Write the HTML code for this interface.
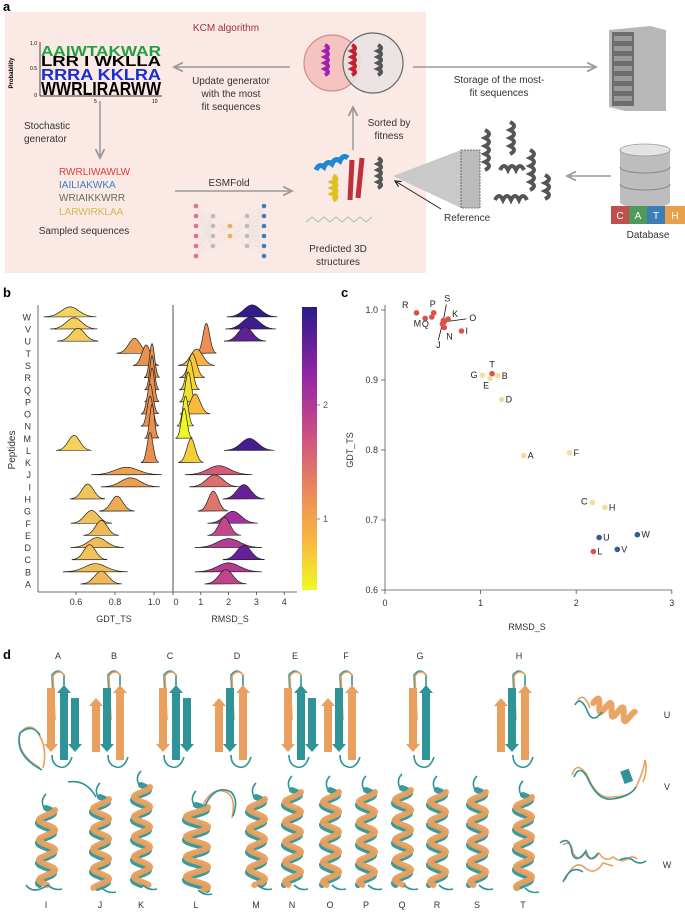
<!DOCTYPE html>
<html><head><meta charset="utf-8">
<style>
html,body{margin:0;padding:0;background:#fff;}
body{width:685px;height:916px;overflow:hidden;font-family:"Liberation Sans",sans-serif;}
svg{display:block;}
text{font-family:"Liberation Sans",sans-serif;}
</style></head>
<body>
<svg id="fig" width="685" height="916" viewBox="0 0 685 916">
  <defs>
    <linearGradient id="cbar" x1="0" y1="1" x2="0" y2="0">
      <stop offset="0" stop-color="#f0f921"/>
      <stop offset="0.17" stop-color="#f9b840"/>
      <stop offset="0.35" stop-color="#ea8a5c"/>
      <stop offset="0.55" stop-color="#cc4f82"/>
      <stop offset="0.75" stop-color="#9526a6"/>
      <stop offset="1" stop-color="#2c1a8a"/>
    </linearGradient>
    <marker id="ah" markerWidth="8" markerHeight="8" refX="6" refY="4" orient="auto"><path d="M0,1 L6,4 L0,7" fill="none" stroke="#999" stroke-width="1.2"/></marker>
    <marker id="ahk" markerWidth="8" markerHeight="8" refX="6" refY="4" orient="auto"><path d="M0,1 L6,4 L0,7" fill="none" stroke="#222" stroke-width="1.2"/></marker>
  </defs>

  <!-- PANEL A -->
  <g>
    <text x="3" y="11" font-size="13" font-weight="bold">a</text>
    <rect x="5" y="12" width="421" height="261" fill="#fbe9e6"/>
    <text x="226" y="31" font-size="10" fill="#a03040" text-anchor="middle">KCM algorithm</text>
    <g font-weight="bold">
      <text x="10" y="70" font-size="6" transform="rotate(-90 13 70)" text-anchor="middle">Probability</text>
      <line x1="40" y1="42" x2="40" y2="96" stroke="#000" stroke-width="0.7"/>
      <line x1="40" y1="96" x2="162" y2="96" stroke="#000" stroke-width="0.7"/>
      <text x="37" y="45" font-size="5" text-anchor="end" font-weight="normal">1.0</text>
      <text x="37" y="70" font-size="5" text-anchor="end" font-weight="normal">0.5</text>
      <text x="37" y="97" font-size="5" text-anchor="end" font-weight="normal">0</text>
      <text x="94" y="103" font-size="5" font-weight="normal">5</text>
      <text x="152" y="103" font-size="5" font-weight="normal">10</text>
      <text x="41" y="95" font-size="18" fill="#000" textLength="120" lengthAdjust="spacingAndGlyphs">WWRLIRARWW</text>
      <text x="41" y="80" font-size="16" fill="#1a2fd0" textLength="120" lengthAdjust="spacingAndGlyphs">RRRA KKLRA</text>
      <text x="41" y="66" font-size="15" fill="#000" textLength="120" lengthAdjust="spacingAndGlyphs">LRR I WKLLA</text>
      <text x="41" y="56" font-size="15" fill="#20a040" textLength="120" lengthAdjust="spacingAndGlyphs">AAIWTAKWAR</text>
    </g>
    <line x1="290" y1="67" x2="174" y2="67" stroke="#999" stroke-width="1.5" marker-end="url(#ah)"/>
    <g font-size="10" fill="#333" text-anchor="middle">
      <text x="231" y="84">Update generator</text>
      <text x="231" y="97">with the most</text>
      <text x="231" y="110">fit sequences</text>
    </g>
    <g>
      <circle cx="332" cy="63" r="28" fill="#f3c4c0" stroke="#d88a86" stroke-width="1.2"/>
      <circle cx="373" cy="63" r="30" fill="#e9e3e3" fill-opacity="0.85" stroke="#666" stroke-width="1.2"/>
      <path d="M325,45 q6,3 0,6 q6,3 0,6 q6,3 0,6 q6,3 0,6 q6,3 0,6" fill="none" stroke="#a020b0" stroke-width="4"/>
      <path d="M352,45 q6,3 0,6 q6,3 0,6 q6,3 0,6 q6,3 0,6 q6,3 0,6" fill="none" stroke="#c02030" stroke-width="4"/>
      <path d="M378,45 q6,3 0,6 q6,3 0,6 q6,3 0,6 q6,3 0,6 q6,3 0,6" fill="none" stroke="#555" stroke-width="4"/>
    </g>
    <line x1="413" y1="67" x2="596" y2="67" stroke="#999" stroke-width="1.5" marker-end="url(#ah)"/>
    <g font-size="10" fill="#333" text-anchor="middle">
      <text x="499" y="83">Storage of the most-</text>
      <text x="499" y="96">fit sequences</text>
    </g>
    <g>
      <path d="M609,30 L650,26 L666,30 L666,111 L625,111 L609,107 Z" fill="#b8b8b8"/>
      <rect x="612" y="32" width="22" height="74" fill="#6d6d6d"/>
      <g fill="#999"><rect x="614" y="36" width="18" height="5"/><rect x="614" y="46" width="18" height="5"/><rect x="614" y="56" width="18" height="5"/><rect x="614" y="66" width="18" height="5"/><rect x="614" y="76" width="18" height="5"/><rect x="614" y="86" width="18" height="5"/><rect x="614" y="96" width="18" height="5"/></g>
    </g>
    <g font-size="10" fill="#333">
      <text x="24" y="129">Stochastic</text>
      <text x="24" y="142">generator</text>
    </g>
    <line x1="100" y1="101" x2="100" y2="158" stroke="#999" stroke-width="1.5" marker-end="url(#ah)"/>
    <g font-size="10">
      <text x="59" y="175" fill="#d9403a">RWRLIWAWLW</text>
      <text x="59" y="188" fill="#3a80c0">IAILIAKWKA</text>
      <text x="59" y="201" fill="#5f705f">WRIAIKKWRR</text>
      <text x="59" y="215" fill="#d4b850">LARWIRKLAA</text>
      <text x="84" y="234" fill="#333" text-anchor="middle">Sampled sequences</text>
    </g>
    <line x1="175" y1="191" x2="292" y2="191" stroke="#999" stroke-width="1.5" marker-end="url(#ah)"/>
    <text x="229" y="186" font-size="10" fill="#333" text-anchor="middle">ESMFold</text>
    <g id="nn"></g>
    <g>
      <path d="M316,170 q3,-7 8,-3 q3,-7 8,-3 q3,-7 8,-3 q3,-7 8,-3" fill="none" stroke="#1e88d0" stroke-width="5"/>
      <path d="M333,176 q6,3 0,6 q6,3 0,6 q6,3 0,6 q6,3 0,6" fill="none" stroke="#e0c020" stroke-width="5"/>
      <path d="M350,200 L352,160 M358,198 L362,158" stroke="#c0303a" stroke-width="5" fill="none"/>
      <path d="M378,158 q6,3 0,6 q6,3 0,6 q6,3 0,6 q6,3 0,6 q6,3 0,6" fill="none" stroke="#555" stroke-width="4"/>
      <path d="M306,222 l6,-5 l6,5 l6,-5 l6,5 l6,-5 l6,5 l6,-5 l6,5 l6,-5 l6,5 l6,-5" fill="none" stroke="#9c9" stroke-width="1"/>
    </g>
    <line x1="353" y1="150" x2="353" y2="107" stroke="#999" stroke-width="1.5" marker-end="url(#ah)"/>
    <g font-size="10" fill="#333" text-anchor="middle">
      <text x="389" y="126">Sorted by</text>
      <text x="389" y="139">fitness</text>
    </g>
    <g font-size="10" fill="#333" text-anchor="middle">
      <text x="338" y="252">Predicted 3D</text>
      <text x="338" y="265">structures</text>
    </g>
    <g>
      <polygon points="393,176 461,150 461,208" fill="#c9c9c9"/>
      <rect x="461" y="150" width="19" height="58" fill="#bbb" stroke="#555" stroke-dasharray="2,1" stroke-width="0.8"/>
      <g fill="none" stroke="#555" stroke-width="4">
        <path d="M485,130 q8,4 0,8 q8,4 0,8 q8,4 0,8 q8,4 0,8 q8,4 0,8"/>
        <path d="M510,122 q8,4 0,8 q8,4 0,8 q8,4 0,8 q8,4 0,8"/>
        <path d="M530,150 q8,4 0,8 q8,4 0,8 q8,4 0,8 q8,4 0,8 q8,4 0,8"/>
        <path d="M500,170 q4,-8 8,0 q4,-8 8,0 q4,-8 8,0"/>
        <path d="M495,200 q4,-8 8,0 q4,-8 8,0 q4,-8 8,0 q4,-8 8,0"/>
        <path d="M545,175 q8,4 0,8 q8,4 0,8 q8,4 0,8"/>
      </g>
    </g>
    <line x1="441" y1="209" x2="395" y2="181" stroke="#222" stroke-width="1" marker-end="url(#ahk)"/>
    <text x="444" y="221" font-size="10" fill="#333">Reference</text>
    <line x1="611" y1="176" x2="567" y2="176" stroke="#999" stroke-width="1.5" marker-end="url(#ah)"/>
    <g>
      <rect x="620" y="150" width="50" height="52" fill="#bdbdbd"/>
      <ellipse cx="645" cy="202" rx="25" ry="6" fill="#bdbdbd"/>
      <path d="M620,167 a25,6 0 0 0 50,0 M620,184 a25,6 0 0 0 50,0" fill="none" stroke="#888" stroke-width="1"/>
      <ellipse cx="645" cy="150" rx="25" ry="6" fill="#e3e3e3" stroke="#999" stroke-width="0.8"/>
    </g>
    <g font-size="10" fill="#fff" text-anchor="middle">
      <rect x="611" y="206" width="18" height="18" fill="#c0504d"/><text x="620" y="219">C</text>
      <rect x="629" y="206" width="18" height="18" fill="#4e9a5a"/><text x="638" y="219">A</text>
      <rect x="647" y="206" width="18" height="18" fill="#3d7eb8"/><text x="656" y="219">T</text>
      <rect x="665" y="206" width="20" height="18" fill="#e8a14a"/><text x="675" y="219">H</text>
    </g>
    <text x="648" y="238" font-size="10" fill="#333" text-anchor="middle">Database</text>
  </g>

  <!-- PANEL B -->
  <g id="panelB">
    <text x="3" y="297" font-size="13" font-weight="bold">b</text>
  </g>
  <!-- PANEL C -->
  <g id="panelC">
    <text x="341" y="297" font-size="13" font-weight="bold">c</text>
  </g>
  <!-- PANEL D -->
  <g id="panelD">
    <text x="3" y="659" font-size="13" font-weight="bold">d</text>
  </g>
</svg>
<script>
const NS='http://www.w3.org/2000/svg';
// ---- Panel b data ----
const peptides=['A','B','C','D','E','F','G','H','I','J','K','L','M','N','O','P','Q','R','S','T','U','V','W'];
const gdtMean=[0.73,0.70,0.67,0.71,0.73,0.68,0.81,0.66,0.88,0.86,0.98,0.59,0.99,0.98,0.98,0.99,0.99,0.99,0.96,0.90,0.61,0.59,0.57];
const gdtSd=[0.035,0.055,0.03,0.045,0.03,0.035,0.03,0.03,0.05,0.06,0.015,0.03,0.012,0.015,0.015,0.012,0.012,0.013,0.022,0.03,0.035,0.04,0.045];
const rmsdMean=[1.9,2.0,2.55,2.0,1.85,2.15,1.45,2.55,1.5,1.65,0.65,2.75,0.4,0.45,0.8,0.55,0.6,0.7,0.85,1.2,2.6,2.8,2.85];
const rmsdSd=[0.25,0.4,0.25,0.4,0.2,0.3,0.18,0.25,0.3,0.4,0.15,0.3,0.1,0.1,0.18,0.1,0.12,0.15,0.22,0.12,0.25,0.3,0.3];
const gdtTicks=[0.6,0.8,1.0];
const gdtTickLabels=['0.6','0.8','1.0'];
const rmsdTicks=[0,1,2,3,4];
const cbarTicks=[1,2];
// ---- Panel c data ----
const scLabels=['R','M','P','Q','S','K','O','N','J','I','T','G','E','B','D','A','F','C','H','U','W','V','L'];
const scRmsd=[0.33,0.42,0.51,0.49,0.61,0.66,0.62,0.62,0.60,0.80,1.12,1.02,1.10,1.18,1.22,1.45,1.93,2.17,2.30,2.24,2.64,2.43,2.18];
const scGdt=[0.996,0.988,0.996,0.990,0.985,0.987,0.983,0.975,0.980,0.970,0.909,0.907,0.902,0.906,0.872,0.792,0.796,0.725,0.718,0.675,0.679,0.658,0.655];
const scGroup=['r','r','r','r','r','r','r','r','r','r','r','y','y','y','y','y','y','y','y','b','b','b','r'];
const scXTicks=[0,1,2,3];
const scYTicks=[0.6,0.7,0.8,0.9,1.0];
const scYTickLabels=['0.6','0.7','0.8','0.9','1.0'];

function mk(tag,attrs,parent){const e=document.createElementNS(NS,tag);for(const k in attrs)e.setAttribute(k,attrs[k]);parent.appendChild(e);return e;}
function txt(parent,x,y,s,size,anchor,fill){const t=mk('text',{x:x,y:y,'font-size':size,'text-anchor':anchor||'start',fill:fill||'#333'},parent);t.textContent=s;return t;}

// ---- NN icon ----
(function(){const g=document.getElementById('nn');
 const cols=[[196,6,'#e07090'],[213,4,'#bbb'],[230,2,'#e8b050'],[247,4,'#bbb'],[264,6,'#3a80c0']];
 const pts=cols.map(c=>{const arr=[];for(let i=0;i<c[1];i++){arr.push([c[0],231+(i-(c[1]-1)/2)*10]);}return arr;});
 for(let k=0;k<pts.length-1;k++)pts[k].forEach(a=>pts[k+1].forEach(b=>mk('line',{x1:a[0],y1:a[1],x2:b[0],y2:b[1],stroke:'#ddd','stroke-width':0.4},g)));
 pts.forEach((arr,k)=>arr.forEach(p=>mk('circle',{cx:p[0],cy:p[1],r:2.3,fill:cols[k][2]},g)));
})();

// ---- Panel b ----
(function(){
 const g=document.getElementById('panelB');
 const rowY=i=>584-i*12.14;
 const gx=v=>76+(v-0.6)*195;
 const rx=v=>173+v*27.8;
 const axisY=592;
 function lerp(a,b,t){return a+(b-a)*t;}
 function hex(c){return [parseInt(c.slice(1,3),16),parseInt(c.slice(3,5),16),parseInt(c.slice(5,7),16)];}
 const stops=[[0.38,'#f0f921'],[0.8,'#f9b840'],[1.26,'#ea8a5c'],[1.77,'#cc4f82'],[2.27,'#9526a6'],[2.9,'#2c1a8a']];
 function rmsdColor(v){v=Math.max(0.38,Math.min(2.9,v));for(let i=0;i<stops.length-1;i++){if(v<=stops[i+1][0]){const t=(v-stops[i][0])/(stops[i+1][0]-stops[i][0]);const a=hex(stops[i][1]),b=hex(stops[i+1][1]);return 'rgb('+a.map((x,j)=>Math.round(lerp(x,b[j],t))).join(',')+')';}}return stops[stops.length-1][1];}
 function gdtColor(v){const t=Math.max(0,Math.min(1,(v-0.57)/0.4));const a=hex('#f6d35c'),b=hex('#e8904e');return 'rgb('+a.map((x,j)=>Math.round(lerp(x,b[j],t))).join(',')+')';}
 function ridge(mean,sd,xs,base,k,maxH,lo,hi,fill,name){
   const h=Math.min(maxH,k/sd);
   let d='M'+xs(lo).toFixed(1)+','+base;
   const n=60;
   for(let i=0;i<=n;i++){const v=lo+(hi-lo)*i/n;const y=base-h*Math.exp(-0.5*Math.pow((v-mean)/sd,2));d+=' L'+xs(v).toFixed(1)+','+y.toFixed(1);}
   d+=' Z';
   const p=mk('path',{d:d,fill:fill,stroke:'#222','stroke-width':0.7},g);
   
   
 }
 for(let i=peptides.length-1;i>=0;i--){
   const base=rowY(i);
   const gm=gdtMean[i],gs=gdtSd[i];
   ridge(gm,gs,gx,base,0.45,34,Math.max(0.42,gm-3*gs),Math.min(1.05,gm+3*gs),gdtColor(gm),'gdt-ridge-'+peptides[i]);
   const rm=rmsdMean[i],rs=rmsdSd[i];
   ridge(rm,rs,rx,base,3.6,30,Math.max(0.1,rm-3*rs),rm+3*rs,rmsdColor(rm),'rmsd-ridge-'+peptides[i]);
   const t=txt(g,31,base+3.5,peptides[i],9,'end','#333');
   
   
 }
 mk('line',{x1:38,y1:305,x2:38,y2:axisY,stroke:'#444','stroke-width':0.8},g);
 mk('line',{x1:38,y1:axisY,x2:297,y2:axisY,stroke:'#444','stroke-width':0.8},g);
 const sep=mk('line',{x1:173,y1:305,x2:173,y2:axisY,stroke:'#777','stroke-width':1.3},g);
 
 
 gdtTicks.forEach((v,i)=>{mk('line',{x1:gx(v),y1:axisY,x2:gx(v),y2:axisY+3,stroke:'#444','stroke-width':0.8},g);const t=txt(g,gx(v),605,gdtTickLabels[i],9,'middle');});
 rmsdTicks.forEach(v=>{mk('line',{x1:rx(v),y1:axisY,x2:rx(v),y2:axisY+3,stroke:'#444','stroke-width':0.8},g);const t=txt(g,rx(v)+(v===0?3:0),605,String(v),9,'middle');});
 let t=txt(g,114,622,'GDT_TS',9,'middle');
 t=txt(g,230,622,'RMSD_S',9,'middle');
 t=txt(g,15,450,'Peptides',10,'middle');t.setAttribute('transform','rotate(-90 15 450)');
 const cb=mk('rect',{x:302,y:307,width:15,height:283,fill:'url(#cbar)'},g);
 
 
 const cy=v=>519-(v-1)*114;
 cbarTicks.forEach(v=>{mk('line',{x1:317,y1:cy(v),x2:320,y2:cy(v),stroke:'#666','stroke-width':0.8},g);const tt=txt(g,323,cy(v)+3,String(v),9,'start','#555');});
})();

// ---- Panel c ----
(function(){
 const g=document.getElementById('panelC');
 const xs=v=>385+v*95.6;
 const ys=v=>310+(1.0-v)*700;
 const colors={r:'#d9534a',y:'#f3dea0',b:'#2e5f8f'};
 mk('line',{x1:385,y1:305,x2:385,y2:590,stroke:'#555','stroke-width':0.8},g);
 mk('line',{x1:385,y1:590,x2:672,y2:590,stroke:'#555','stroke-width':0.8},g);
 scXTicks.forEach(v=>{mk('line',{x1:xs(v),y1:590,x2:xs(v),y2:594,stroke:'#555','stroke-width':0.8},g);const t=txt(g,xs(v),606,String(v),9,'middle');});
 scYTicks.forEach((v,i)=>{mk('line',{x1:381,y1:ys(v),x2:385,y2:ys(v),stroke:'#555','stroke-width':0.8},g);const t=txt(g,378,ys(v)+3,scYTickLabels[i],9,'end');});
 let t=txt(g,527,630,'RMSD_S',9,'middle');
 t=txt(g,353,450,'GDT_TS',9,'middle');t.setAttribute('transform','rotate(-90 353 450)');
 const off={R:[-8,-5,'end'],M:[-4,8,'end'],P:[-1,-6,'middle'],Q:[-3,10,'end'],S:[4,-19,'middle'],K:[4,-2,'start'],O:[25,-1,'start'],N:[2,12,'start'],J:[-4,24,'middle'],I:[4,3,'start'],T:[0,-6,'middle'],G:[-5,3,'end'],E:[-4,10,'middle'],B:[4,3,'start'],D:[4,3,'start'],A:[4,3,'start'],F:[4,3,'start'],C:[-5,2,'end'],H:[4,3,'start'],U:[4,3,'start'],W:[4,3,'start'],V:[4,3,'start'],L:[4,3,'start']};
 const leaders={S:[3,-16],O:[22,-3],J:[-4,16]};
 scLabels.forEach((lab,i)=>{
   const x=xs(scRmsd[i]),y=ys(scGdt[i]);
   if(leaders[lab]){const l=mk('line',{x1:x,y1:y,x2:x+leaders[lab][0],y2:y+leaders[lab][1],stroke:'#111','stroke-width':0.8},g);}
 });
 scLabels.forEach((lab,i)=>{
   const x=xs(scRmsd[i]),y=ys(scGdt[i]);
   const c=mk('circle',{cx:x,cy:y,r:2.8,fill:colors[scGroup[i]]},g);
   
   
   const o=off[lab];
   const tt=txt(g,x+o[0],y+o[1],lab,9,o[2],'#222');
   
   
 });
})();

// ---- Panel d ----
(function(){
 const g=document.getElementById('panelD');
 const teal='#2e9497',orange='#e9a05e';
 function helix(cx,top,bot,phase,color,amp,period,parent){
   let d='';const n=160;
   for(let i=0;i<=n;i++){const y=top+(bot-top)*i/n;const x=cx+amp*Math.sin((y-top)/period*2*Math.PI+phase);d+=(i?' L':'M')+x.toFixed(1)+','+y.toFixed(1);}
   mk('path',{d:d,fill:'none',stroke:color,'stroke-width':6,'stroke-linecap':'round','stroke-opacity':0.95},parent||g);
 }
 function sheet(cx,top,bot,color,up,parent){
   const w=4,hw=7;
   const p=up?[[cx-w,bot],[cx-w,top+8],[cx-hw,top+8],[cx,top],[cx+hw,top+8],[cx+w,top+8],[cx+w,bot]]:[[cx-w,top],[cx-w,bot-8],[cx-hw,bot-8],[cx,bot],[cx+hw,bot-8],[cx+w,bot-8],[cx+w,top]];
   mk('polygon',{points:p.map(q=>q.join(',')).join(' '),fill:color},parent||g);
 }
 function loop(d,color,parent){mk('path',{d:d,fill:'none',stroke:color,'stroke-width':1.6},parent||g);}
 const topLabels=['A','B','C','D','E','F','G','H'];
 const topX=[58,114,170,237,295,346,420,519];
 topLabels.forEach((l,k)=>{
   const cx=topX[k];
   const t=txt(g,cx,659,l,9,'middle');
   
   
   const gg=mk('g',{},g);
   
   
   loop('M'+(cx-4)+',720 L'+(cx-6)+',675 q6,-8 12,0 L'+(cx+6)+',720',teal,gg);
   loop('M'+(cx-3)+',720 L'+(cx-5)+',676 q6,-8 12,0',orange,gg);
   loop('M'+(cx-6)+',755 q0,10 8,12 q8,2 12,-10',teal,gg);
   if(k===0){loop('M40,768 q-25,-15 -20,-35 q10,-12 18,0 q10,15 5,35',orange,gg);loop('M42,770 q-28,-15 -22,-37 q12,-10 20,2',teal,gg);}
   sheet(cx-7,688,752,(k%2)?teal:orange,false,gg);
   sheet(cx+6,685,760,(k%2)?orange:teal,true,gg);
   if(k!==6)sheet(cx+(k%2?-18:17),698,752,(k%2)?orange:teal,k%2===1,gg);
 });
 // U,V,W
 const rl=[['U',718],['V',790],['W',868]];
 rl.forEach(([l,y])=>{const t=txt(g,667,y,l,9,'middle');});
 const gu=mk('g',{transform:'rotate(-70 612 710)'},g);
 
 
 helix(612,690,732,0,orange,6,13,gu);
 loop('M575,705 q5,-10 12,5 q5,15 15,2',teal);
 loop('M578,700 q6,-8 12,8',orange);
 const gv=mk('g',{},g);
 
 
 loop('M572,775 q5,-15 15,0 q10,25 25,22 q20,0 25,-12 q6,-12 8,-25 q3,10 -2,22',orange,gv);
 loop('M574,777 q6,-14 14,2 q10,22 24,20 q18,-2 24,-12',teal,gv);
 mk('rect',{x:622,y:770,width:9,height:13,fill:teal,transform:'rotate(-20 626 776)'},gv);
 const gw=mk('g',{},g);
 
 
 loop('M563,845 q8,-6 10,8 q6,10 12,0 q6,12 14,0 q6,10 14,4 q8,6 14,2 q6,-4 10,0 M565,880 q10,-22 20,-12 q10,8 18,-5 l10,3',orange,gw);
 loop('M560,843 q10,-8 12,10 q4,12 14,-2 q4,14 12,2 M563,882 q8,-18 20,-10 M620,860 q8,-4 14,1 q6,4 12,0',teal,gw);
 // bottom helices
 const botLabels=['I','J','K','L','M','N','O','P','Q','R','S','T'];
 const botX=[46,100,141,196,256,292,330,366,402,437,477,523];
 const botTop=[808,797,785,805,797,790,790,790,788,790,790,795];
 const botBot=[885,888,885,890,885,885,885,885,885,885,885,888];
 botLabels.forEach((l,k)=>{
   const cx=botX[k];
   const t=txt(g,cx,908,l,9,'middle');
   
   
   const gg=mk('g',{},g);
   
   
   const amp=(k===3?11:8);
   helix(cx,botTop[k],botBot[k],0,teal,amp,20,gg);
   helix(cx+1,botTop[k]+2,botBot[k],1.6,orange,amp,20,gg);
   loop('M'+(cx-2)+','+botTop[k]+' q-4,-8 2,-14',teal,gg);
   loop('M'+(cx+2)+','+botBot[k]+' q6,6 14,4',teal,gg);
 });
 loop('M48,885 q-15,10 -22,0',teal);
 loop('M203,805 q10,-20 25,-12 q8,6 4,25',orange);
 loop('M205,806 q10,-22 26,-14 q8,8 2,24',teal);
 loop('M96,797 q-10,-18 -28,-15',teal);
})();
</script>
</body></html>
